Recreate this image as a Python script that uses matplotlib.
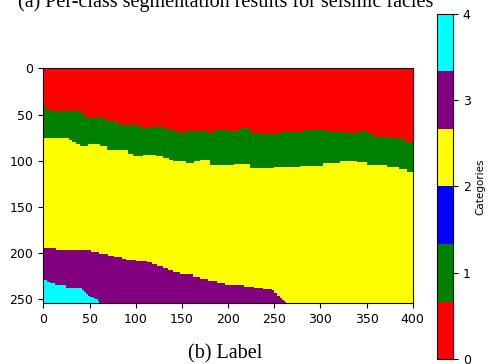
import matplotlib
matplotlib.use('Agg')
import matplotlib.pyplot as plt
from matplotlib.colors import ListedColormap
import numpy as np

# Limites entre as camadas (coluna inicial -> linha onde a camada comeca)
verde_cols = [0, 2, 4, 9, 35, 41, 47, 58, 65, 72, 78, 83, 105, 116, 130, 138, 145, 155, 177, 184, 199, 213, 224, 233, 242, 256, 281, 307, 324, 343, 350, 357, 375, 389]
verde_rows = [42, 44, 46, 47, 47, 51, 54, 53, 56, 58, 60, 62, 65, 64, 66, 68, 70, 68, 71, 67, 68, 65, 71, 72, 72, 69, 67, 69, 71, 68, 72, 75, 76, 80]

amarelo_cols = [0, 28, 31, 36, 40, 49, 62, 69, 87, 92, 97, 108, 122, 130, 136, 141, 155, 163, 170, 181, 206, 224, 250, 278, 303, 321, 339, 350, 372, 385, 393]
amarelo_rows = [76, 78, 80, 83, 85, 82, 85, 89, 89, 93, 95, 94, 95, 98, 100, 101, 103, 101, 100, 105, 104, 108, 107, 106, 103, 101, 102, 105, 107, 110, 113]

roxo_cols = [0, 14, 42, 52, 61, 70, 77, 85, 90, 100, 112, 118, 123, 130, 135, 141, 148, 155, 162, 170, 178, 188, 197, 206, 217, 228, 238, 247, 250, 253, 256, 258, 260, 262, 263]
roxo_rows = [195, 197, 198, 200, 202, 204, 205, 207, 208, 209, 211, 213, 215, 217, 219, 221, 223, 224, 227, 229, 231, 233, 235, 236, 238, 239, 240, 241, 244, 247, 250, 252, 253, 254, 255]

ciano_cols = [0, 4, 8, 13, 18, 25, 42, 44, 46, 49, 51, 54, 56, 59, 61]
ciano_rows = [230, 232, 233, 235, 236, 239, 241, 243, 245, 247, 248, 250, 251, 253, 255]

cores = ['red', 'green', 'blue', 'yellow', 'purple', 'cyan']
categorias = [0, 1, 2, 3, 4]

altura, largura = 255, 401


def degrau(cols, rows):
    # valor constante a partir de cada coluna listada
    c = np.arange(largura)
    idx = np.searchsorted(cols, c, side='right') - 1
    return np.array(rows)[idx]


linhas = np.arange(altura)[:, None]
label = np.zeros((altura, largura))
label[linhas >= degrau(verde_cols, verde_rows)[None, :]] = 1
label[linhas >= degrau(amarelo_cols, amarelo_rows)[None, :]] = 2
label[linhas >= degrau(roxo_cols, roxo_rows)[None, :]] = 3
label[linhas >= degrau(ciano_cols, ciano_rows)[None, :]] = 4

fig = plt.figure(figsize=(4.89, 3.64), dpi=100)
ax = fig.add_axes([0.088, 0.1676, 0.757, 0.6456])
im = ax.imshow(label, cmap=ListedColormap(cores), vmin=0, vmax=4,
               aspect='auto', interpolation='nearest')
ax.tick_params(labelsize=9)

cax = fig.add_axes([0.8937, 0.0137, 0.0327, 0.948])
cb = fig.colorbar(im, cax=cax, ticks=categorias)
cb.ax.tick_params(labelsize=9)
cb.set_label('Categories', fontsize=7.5, labelpad=3)

# Textos de legenda da figura (estilo artigo)
fig.text(0.462, 1 - 7 / 364, '(a) Per-class segmentation results for seismic facies',
         family='Liberation Serif', fontsize=14.5, ha='center', va='baseline')
fig.text(0.46, 1 - 358 / 364, '(b) Label', family='Liberation Serif',
         fontsize=14.5, ha='center', va='baseline')

fig.savefig('out.png', dpi=100)
